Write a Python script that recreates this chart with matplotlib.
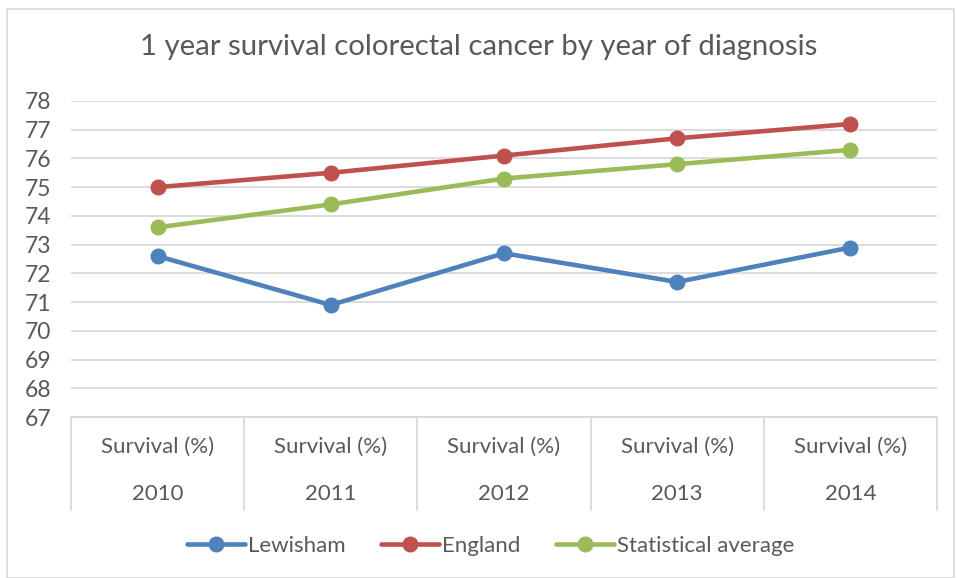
import matplotlib.pyplot as plt
from matplotlib.patches import Rectangle

years = ['2010', '2011', '2012', '2013', '2014']
sub_label = 'Survival (%)'
lewisham = [72.6, 70.9, 72.7, 71.7, 72.9]
england = [75.0, 75.5, 76.1, 76.7, 77.2]
stat_avg = [73.6, 74.4, 75.3, 75.8, 76.3]

plt.rcParams['font.family'] = ['Lato', 'DejaVu Sans']
txt = '#595959'
grid = '#d9d9d9'

fig = plt.figure(figsize=(9.57, 5.78), dpi=100)
fig.patches.append(Rectangle((0.007, 0.0), 0.99, 0.985, transform=fig.transFigure,
                             fill=False, edgecolor=grid, lw=1.2))
ax = fig.add_axes([0.0742, 0.2785, 0.9048, 0.5468])

x = range(len(years))
series = [('Lewisham', lewisham, '#4f81bd'),
          ('England', england, '#c0504d'),
          ('Statistical average', stat_avg, '#9bbb59')]
for name, vals, col in series:
    ax.plot(x, vals, color=col, lw=3.3, marker='o', ms=10.5, label=name,
            solid_capstyle='round', zorder=3)

ax.set_xlim(-0.5, 4.5)
ax.set_ylim(67, 78)
ax.set_yticks(range(67, 79))
ax.yaxis.grid(True, color=grid, lw=1.3)
ax.set_axisbelow(True)
for s in ['top', 'right', 'left']:
    ax.spines[s].set_visible(False)
ax.spines['bottom'].set_color(grid)
ax.spines['bottom'].set_linewidth(1.3)
ax.tick_params(axis='y', length=0, labelsize=16.5, labelcolor=txt, pad=14)
ax.tick_params(axis='x', length=0, labelbottom=False)

# two-level category axis
for b in [-0.5, 0.5, 1.5, 2.5, 3.5, 4.5]:
    ax.plot([b, b], [0, -0.295], transform=ax.get_xaxis_transform(),
            color=grid, lw=1.3, clip_on=False)
for i, yr in enumerate(years):
    ax.text(i, -0.095, sub_label, transform=ax.get_xaxis_transform(),
            ha='center', va='center', fontsize=16, color=txt)
    ax.text(i, -0.245, yr, transform=ax.get_xaxis_transform(),
            ha='center', va='center', fontsize=16, color=txt)

fig.text(0.5, 0.918, '1 year survival colorectal cancer by year of diagnosis',
         ha='center', va='center', fontsize=21.2, color=txt)

fig.legend(loc='center', bbox_to_anchor=(0.513, 0.055), ncol=3, frameon=False,
           fontsize=16, labelcolor=txt, handlelength=2.6, handletextpad=0.15,
           columnspacing=1.6)

fig.savefig('out.png', dpi=100)
